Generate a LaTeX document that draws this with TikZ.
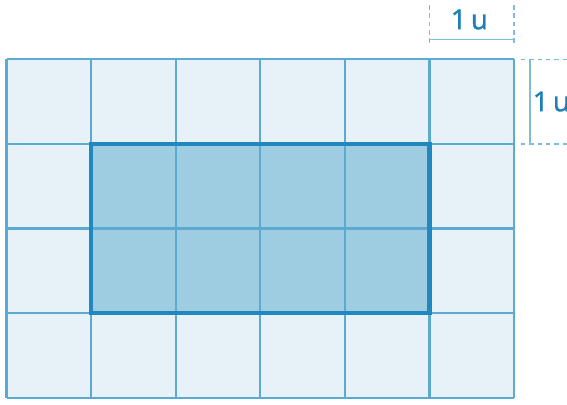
\documentclass[tikz,border=0pt]{standalone}
\usepackage{fontspec}
\setmainfont{Open Sans}
\newfontfamily\unitfont[FakeBold=1.2]{Open Sans}
\usepackage{tikz}
\definecolor{PaleCell}{HTML}{E6F2F8}
\definecolor{GridBlue}{HTML}{5CAAD2}
\definecolor{MidCell}{HTML}{9ECCE1}
\definecolor{Border}{HTML}{2088BF}
\definecolor{DimBlue}{HTML}{7DBCDA}
\definecolor{LabelBlue}{HTML}{1E7FB8}
\tikzset{
  palecell/.style={fill=PaleCell},
  midcell/.style={fill=MidCell},
  gridline/.style={draw=GridBlue,line width=0.7pt},
  thickframe/.style={draw=Border,line width=1.4pt},
  dimline/.style={draw=DimBlue,line width=0.5pt},
  dimguide/.style={draw=DimBlue,line width=0.5pt,dash pattern=on 1.5pt off 1.3pt},
  dimlabel/.style={font=\unitfont\fontsize{9.2}{11}\selectfont,text=LabelBlue,inner sep=1pt}
}
\begin{document}
\begin{tikzpicture}
  \useasboundingbox (-0.077,-0.086) rectangle (6.625,4.701);
  % cells
  \fill[palecell] (0,0) rectangle (6,4);
  \fill[midcell] (1,1) rectangle (5,3);
  \draw[gridline] (0,0) grid (6,4);
  \draw[thickframe] (1,1) rectangle (5,3);
  % unit marks
  \coordinate (ta) at (5,4.17);
  \coordinate (tb) at (6,4.17);
  \draw[dimguide] (5,4.64) -- (ta);
  \draw[dimguide] (6,4.64) -- (tb);
  \draw[dimline] (5,4.236) -- (6,4.236);
  \node[dimlabel] (toplabel) at (5.47,4.47) {1\,u};
  \coordinate (ra) at (6.62,4);
  \coordinate (rb) at (6.62,3);
  \draw[dimguide] (6.08,4) -- (ra);
  \draw[dimguide] (6.08,3) -- (rb);
  \draw[dimline] (6.188,4) -- (6.188,3);
  \node[dimlabel] (sidelabel) at (6.44,3.5) {1\,u};
\end{tikzpicture}
\end{document}
